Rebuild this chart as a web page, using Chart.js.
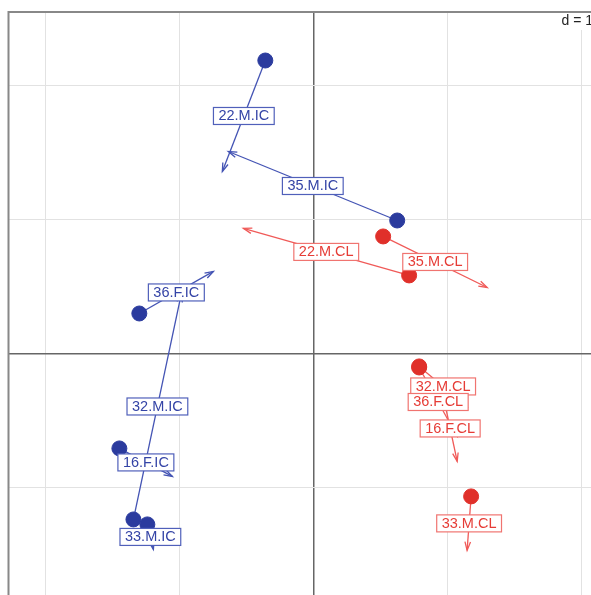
<!DOCTYPE html>
<html>
<head>
<meta charset="utf-8">
<script src="https://cdn.jsdelivr.net/npm/chart.js@4/dist/chart.umd.min.js"></script>
<style>
    html, body { margin: 0; padding: 0; background: #fff; overflow: hidden; }
    #wrap { position: absolute; left: 0; top: 0; width: 610px; height: 615px; }
</style>
</head>
<body>
<div id="wrap"><canvas id="chart" width="610" height="615"></canvas></div>
<script>
// Pairs: dot at the start, arrow to the end, label at the middle
const labels = ['22.M.IC', '35.M.IC', '36.F.IC', '32.M.IC', '16.F.IC', '33.M.IC',
                '22.M.CL', '35.M.CL', '32.M.CL', '36.F.CL', '16.F.CL', '33.M.CL'];
const startX = [-0.358, 0.627, -1.299, -1.343, -1.448, -1.239,
                 0.716, 0.522, 0.791, 0.791, 0.970, 1.179];
const startY = [2.190, 0.996, 0.302, -1.235, -0.705, -1.272,
                0.586, 0.877, -0.093, -0.101, -0.310, -1.063];
const endX = [-0.679, -0.634, -0.746, -0.985, -1.052, -1.194,
              -0.522, 1.299, 1.149, 1.075, 1.075, 1.149];
const endY = [1.362, 1.511, 0.616, 0.451, -0.914, -1.459,
              0.937, 0.496, -0.392, -0.616, -0.802, -1.466];
const gridStep = 1; // "d = 1"

const colors = {
    IC: { dot: '#2b3b9e', line: '#4454b4', text: '#3444a6', box: '#5060ba' },
    CL: { dot: '#e0302a', line: '#f05a58', text: '#e63c36', box: '#f07470' }
};

const groupOf = (lab) => lab.endsWith('.IC') ? 'IC' : 'CL';

// Build datasets: one line per pair, then dots for each group
const datasets = [];
labels.forEach((lab, i) => {
    datasets.push({
        type: 'line',
        data: [{ x: startX[i], y: startY[i] }, { x: endX[i], y: endY[i] }],
        borderColor: colors[groupOf(lab)].line,
        borderWidth: 1.3,
        pointRadius: 0,
        order: 2
    });
});
['IC', 'CL'].forEach(g => {
    const pts = [];
    labels.forEach((lab, i) => {
        if (groupOf(lab) === g) pts.push({ x: startX[i], y: startY[i] });
    });
    datasets.push({
        type: 'scatter',
        data: pts,
        backgroundColor: colors[g].dot,
        borderColor: colors[g].dot,
        pointRadius: 7.5,
        pointHoverRadius: 7.5,
        order: 1
    });
});

const frameAndLabels = {
    id: 'frameAndLabels',
    beforeDatasetsDraw(chart) {
        const { ctx, chartArea: a } = chart;
        ctx.save();
        ctx.strokeStyle = '#888';
        ctx.lineWidth = 2;
        ctx.strokeRect(a.left, a.top, a.right - a.left, a.bottom - a.top);
        ctx.restore();
    },
    afterDatasetsDraw(chart) {
        const { ctx, chartArea: a } = chart;
        const xs = chart.scales.x, ys = chart.scales.y;

        // arrow heads
        ctx.save();
        labels.forEach((lab, i) => {
            const x0 = xs.getPixelForValue(startX[i]), y0 = ys.getPixelForValue(startY[i]);
            const x1 = xs.getPixelForValue(endX[i]), y1 = ys.getPixelForValue(endY[i]);
            const ang = Math.atan2(y1 - y0, x1 - x0);
            const len = 9, spread = Math.PI / 10;
            ctx.strokeStyle = colors[groupOf(lab)].line;
            ctx.lineWidth = 1.3;
            ctx.beginPath();
            ctx.moveTo(x1 - len * Math.cos(ang - spread), y1 - len * Math.sin(ang - spread));
            ctx.lineTo(x1, y1);
            ctx.lineTo(x1 - len * Math.cos(ang + spread), y1 - len * Math.sin(ang + spread));
            ctx.stroke();
        });

        // labels in boxes at the middle of each pair
        ctx.font = '14.5px "Liberation Sans", Arial, sans-serif';
        ctx.textAlign = 'center';
        ctx.textBaseline = 'middle';
        labels.forEach((lab, i) => {
            const c = colors[groupOf(lab)];
            const mx = xs.getPixelForValue((startX[i] + endX[i]) / 2);
            const my = ys.getPixelForValue((startY[i] + endY[i]) / 2);
            const w = ctx.measureText(lab).width + 10, h = 17;
            ctx.fillStyle = '#fff';
            ctx.fillRect(mx - w / 2, my - h / 2, w, h);
            ctx.strokeStyle = c.box;
            ctx.lineWidth = 1.2;
            ctx.strokeRect(mx - w / 2, my - h / 2, w, h);
            ctx.fillStyle = c.text;
            ctx.fillText(lab, mx, my + 0.5);
        });

        // scale legend, top right
        const txt = 'd = ' + gridStep;
        ctx.font = '14px "Liberation Sans", Arial, sans-serif';
        ctx.textAlign = 'right';
        const tw = ctx.measureText(txt).width;
        ctx.fillStyle = '#fff';
        ctx.fillRect(a.right - tw - 12, a.top + 1, tw + 11, 17);
        ctx.fillStyle = '#222';
        ctx.fillText(txt, a.right - 8, a.top + 9);
        ctx.restore();
    }
};

// grid only at whole multiples of the step
const wholeTicks = (scale) => {
    const out = [];
    for (let v = Math.ceil(scale.min / gridStep) * gridStep; v <= scale.max; v += gridStep) {
        out.push({ value: v });
    }
    scale.ticks = out;
};

const gridOpts = {
    color: (c) => c.tick && c.tick.value === 0 ? '#666' : '#e2e2e2',
    lineWidth: (c) => c.tick && c.tick.value === 0 ? 1.5 : 1,
    drawTicks: false
};

new Chart(document.getElementById('chart'), {
    data: { datasets },
    options: {
        responsive: false,
        animation: false,
        layout: { padding: { left: 8, top: 12, right: 9, bottom: 9 } },
        plugins: { legend: { display: false }, tooltip: { enabled: false } },
        scales: {
            x: {
                type: 'linear',
                min: -2.276, max: 2.149,
                ticks: { display: false, stepSize: gridStep },
                afterBuildTicks: wholeTicks,
                grid: gridOpts,
                border: { display: false }
            },
            y: {
                type: 'linear',
                min: -1.881, max: 2.552,
                ticks: { display: false, stepSize: gridStep },
                afterBuildTicks: wholeTicks,
                grid: gridOpts,
                border: { display: false }
            }
        }
    },
    plugins: [frameAndLabels]
});
</script>
</body>
</html>
